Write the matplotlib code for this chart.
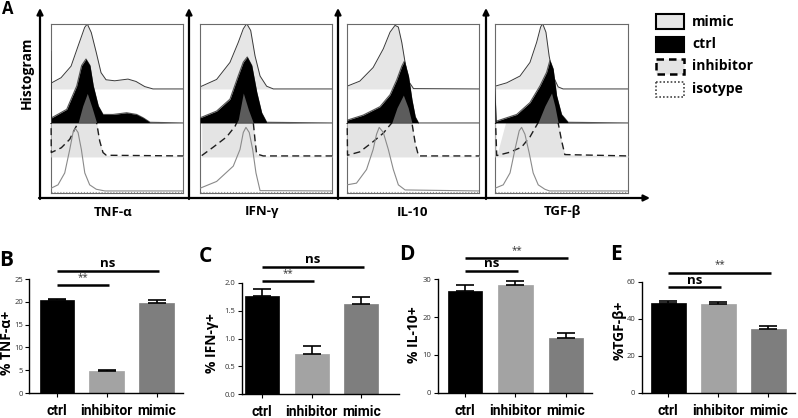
import matplotlib

matplotlib.use("Agg")
import matplotlib.pyplot as plt
import numpy as np
from matplotlib.patches import Rectangle

plt.rcParams["font.family"] = ["Open Sans", "DejaVu Sans"]

W, H = 798, 418

# ---- panel A: offset histograms; x = fraction of the axis, h = height in row units
MARKERS = ["TNF-α", "IFN-γ", "IL-10", "TGF-β"]

tnf_mimic_x = [0, .076, .152, .205, .255, .275, .305, .343, .379, .417, .483, .583, .644, .710, .773, 1.0]
tnf_mimic_h = [0.17, 0.33, 0.67, 1.26, 1.81, 1.91, 1.66, 1.07, 0.48, 0.27, 0.24, 0.29, 0.22, 0.07, 0, 0]
tnf_ctrl_x = [0, .004, .119, .195, .232, .265, .295, .320, .358, .394, .470, .573, .649, .699, .75, 1.0]
tnf_ctrl_h = [2.1, 0.15, 0.4, 1.09, 1.69, 1.88, 1.69, 1.09, 0.5, 0.25, 0.25, 0.3, 0.25, 0.15, 0.02, 0]
tnf_inh_x = [0, .002, .078, .142, .180, .205, .240, .275, .311, .346, .369, .394, .419, 1.0]
tnf_inh_h = [1.5, 0.13, 0.27, 0.52, 0.82, 1.0, 1.5, 1.87, 1.45, 1.0, 0.47, 0.13, 0.05, 0.03]
tnf_iso_x = [0, .053, .104, .142, .167, .184, .205, .230, .256, .293, .343, .409, 1.0]
tnf_iso_h = [0.08, 0.18, 0.53, 1.22, 1.72, 1.84, 1.72, 1.22, 0.53, 0.18, 0.05, 0, 0]

ifn_mimic_x = [0, .126, .227, .290, .328, .354, .384, .417, .455, .505, .556, 1.0]
ifn_mimic_h = [0.06, 0.28, 0.78, 1.37, 1.77, 1.92, 1.72, 0.97, 0.38, 0.08, 0, 0]
ifn_ctrl_x = [0, .126, .227, .290, .328, .358, .392, .430, .467, .505, 1.0]
ifn_ctrl_h = [0.15, 0.35, 0.7, 1.39, 1.79, 1.94, 1.69, 0.9, 0.3, 0.02, 0]
ifn_inh_x = [.013, .101, .202, .265, .290, .328, .366, .404, .417, .429, .479, 1.0]
ifn_inh_h = [0.04, 0.29, 0.59, 0.9, 1.1, 1.88, 1.4, 1.0, 0.49, 0.09, 0.03, 0.03]
ifn_iso_x = [0, .126, .252, .303, .328, .348, .373, .399, .424, .455, 1.0]
ifn_iso_h = [0.08, 0.28, 0.73, 1.22, 1.72, 1.87, 1.72, 1.22, 0.53, 0.01, 0]

il10_mimic_x = [0, .097, .198, .275, .326, .364, .389, .415, .440, .466, .504, 1.0]
il10_mimic_h = [0.08, 0.23, 0.63, 1.18, 1.67, 1.87, 1.82, 1.37, 0.78, 0.23, 0.01, 0]
il10_ctrl_x = [0, .122, .250, .326, .377, .415, .435, .466, .492, .517, .542, 1.0]
il10_ctrl_h = [0.08, 0.23, 0.48, 0.83, 1.27, 1.67, 1.82, 1.37, 0.68, 0.18, 0, 0]
il10_inh_x = [0, .004, .097, .198, .275, .339, .379, .427, .463, .492, .517, .542, 1.0]
il10_inh_h = [1.5, 0.05, 0.15, 0.45, 0.7, 1.0, 1.45, 1.82, 1.45, 1.0, 0.4, 0.03, 0.03]
il10_iso_x = [0, .072, .148, .198, .224, .244, .275, .313, .351, .389, .440, 1.0]
il10_iso_h = [0.18, 0.23, 0.63, 1.22, 1.67, 1.87, 1.72, 1.22, 0.63, 0.18, 0.03, 0]

tgf_mimic_x = [0, .088, .188, .263, .313, .343, .358, .383, .407, .437, .475, .512, 1.0]
tgf_mimic_h = [0.08, 0.18, 0.38, 0.78, 1.37, 1.82, 1.92, 1.67, 0.97, 0.38, 0.06, 0, 0]
tgf_ctrl_x = [0, .008, .163, .263, .338, .388, .413, .437, .463, .500, .550, 1.0]
tgf_ctrl_h = [1.0, 0.05, 0.25, 0.6, 1.09, 1.49, 1.84, 1.59, 0.8, 0.25, 0.02, 0]
tgf_inh_x = [0, .013, .113, .200, .263, .323, .375, .425, .450, .475, .500, .525, 1.0]
tgf_inh_h = [1.5, 0.04, 0.14, 0.29, 0.59, 1.0, 1.5, 1.88, 1.5, 1.0, 0.49, 0.07, 0.03]
tgf_iso_x = [0, .062, .113, .150, .182, .200, .225, .257, .287, .325, .375, .410, 1.0]
tgf_iso_h = [0.08, 0.18, 0.53, 1.22, 1.77, 1.87, 1.67, 1.12, 0.53, 0.18, 0.05, 0, 0]

# where the light inhibitor band starts filling the whole row
band_start = [0.0, 0.0, 0.0, 0.11]

# ---- panels B-E: bar charts (mean, upper SEM)
GROUPS = ["ctrl", "inhibitor", "mimic"]
tnf_mean = [20.4, 4.75, 19.8]
tnf_sem = [0.2, 0.35, 0.7]
ifn_mean = [1.76, 0.72, 1.62]
ifn_sem = [0.13, 0.15, 0.12]
il10_mean = [26.8, 28.4, 14.4]
il10_sem = [1.8, 1.1, 1.4]
tgf_mean = [48.3, 47.9, 34.2]
tgf_sem = [1.5, 1.2, 2.0]
# (compared group, label, line height)
tnf_sig = [(2, "ns", 26.8), (1, "**", 23.7)]
ifn_sig = [(2, "ns", 2.28), (1, "**", 2.03)]
il10_sig = [(2, "**", 35.7), (1, "ns", 32.2)]
tgf_sig = [(2, "**", 64.9), (1, "ns", 57.0)]

MIMIC_FILL, INH_FILL, OVERLAP = "#e6e6e6", "#e4e4e4", "#5c5c5c"
BAR_COLORS = ["#000000", "#a3a3a3", "#7e7e7e"]


def fig_rect(x0, x1, y0, y1):
    """pixel box (left, right, top, bottom) -> figure fraction rect"""
    return [x0 / W, 1 - y1 / H, (x1 - x0) / W, (y1 - y0) / H]


def hist_panel(ax, xm, hm, xc, hc, xi, hi, xs, hs, start):
    xm, hm, xc, hc = map(np.asarray, (xm, hm, xc, hc))
    xi, hi, xs, hs = map(np.asarray, (xi, hi, xs, hs))
    b_iso, b_inh, b_ctrl, b_mim = 0.0, 1.0, 2.0, 3.0

    # mimic (top row)
    ax.fill_between(xm, b_mim, b_mim + hm, color=MIMIC_FILL, lw=0, zorder=1)
    ax.plot(xm, b_mim + hm, color="#3a3a3a", lw=0.7, zorder=2)

    # inhibitor: light band + dashed outline, hidden above the ctrl baseline
    peak = xi[np.argmax(hi)]
    band = np.where((xi >= start) & (xi <= peak), 1.5, hi)
    fb = ax.fill_between(xi, b_inh, b_inh + band, color=INH_FILL, lw=0, zorder=3)
    fb.set_clip_path(Rectangle((-0.1, -1), 1.2, 3, transform=ax.transData))
    ln, = ax.plot(xi, b_inh + hi, color="#1e1e1e", lw=1.0, ls=(0, (5, 3)), zorder=5)
    ln.set_clip_path(Rectangle((-0.1, -1), 1.2, 3, transform=ax.transData))

    # isotype
    ax.plot(xs, b_iso + hs, color="#8a8a8a", lw=0.8, zorder=6)
    ax.axhline(-0.035, color="#9a9a9a", lw=0.8, ls=":", zorder=1)

    # ctrl, with the inhibitor overlap shown darker
    ax.plot(xc, b_ctrl + hc, color="#555555", lw=0.8, zorder=6.5)
    poly = ax.fill_between(xc, b_ctrl, b_ctrl + hc, color="black", lw=0, zorder=7)
    dark = ax.fill_between(xi, b_ctrl, b_inh + hi, color=OVERLAP, lw=0, zorder=8)
    dark.set_clip_path(poly.get_paths()[0], poly.get_transform())

    ax.set_xlim(0, 1)
    ax.set_ylim(-0.06, 4.91)
    ax.set_xticks([])
    ax.set_yticks([])
    for s in ax.spines.values():
        s.set_color("#6a6a6a")
        s.set_linewidth(0.8)


def bar_panel(box, xlim, ylim, yticks, ticklabels, means, sems, sig):
    ax = fig.add_axes(fig_rect(*box))
    pos = np.arange(len(GROUPS))
    ax.bar(pos, means, width=0.69, color=BAR_COLORS, edgecolor=BAR_COLORS, lw=0.5, zorder=2)
    ax.errorbar(pos, means, yerr=[np.zeros(len(sems)), sems], fmt="none", ecolor="black",
                elinewidth=1.2, capsize=6.5, capthick=1.2, zorder=3)
    for tgt, lab, y in sig:
        end = tgt + 0.05
        ax.plot([0, end], [y, y], color="black", lw=1.8, clip_on=False, solid_capstyle="butt")
        if lab == "ns":
            ax.annotate(lab, (end / 2, y), xytext=(0, 0.5), textcoords="offset points",
                        ha="center", va="bottom", fontsize=9.5, fontweight="bold",
                        annotation_clip=False)
        else:
            ax.annotate(lab, (end / 2, y), xytext=(0, 1.5), textcoords="offset points",
                        ha="center", va="bottom", fontsize=7, color="#333333",
                        annotation_clip=False)
    ax.set_xlim(*xlim)
    ax.set_ylim(*ylim)
    ax.set_yticks(yticks)
    ax.set_yticklabels(ticklabels, fontsize=5.5, color="#333333")
    ax.set_xticks(pos)
    ax.set_xticklabels(GROUPS, fontsize=10, fontweight="bold", family=["Roboto", "DejaVu Sans"])
    ax.tick_params(axis="y", length=3, width=0.8, pad=1.5)
    ax.tick_params(axis="x", length=3, width=0.8, pad=5)
    for side in ("top", "right"):
        ax.spines[side].set_visible(False)
    for side in ("left", "bottom"):
        ax.spines[side].set_linewidth(1.0)
    return ax


fig = plt.figure(figsize=(W / 100, H / 100), dpi=100)

# overlay in pixel coordinates for arrows, labels and legend
ov = fig.add_axes([0, 0, 1, 1])
ov.set_xlim(0, W)
ov.set_ylim(H, 0)
ov.axis("off")

arrow = dict(arrowstyle="-|>", lw=1.6, color="black", mutation_scale=9, shrinkA=0, shrinkB=0)
for xa in (40, 189, 338, 486):
    ov.annotate("", xy=(xa, 8), xytext=(xa, 199), arrowprops=arrow)
ov.annotate("", xy=(650, 198), xytext=(39, 198), arrowprops=arrow)

ov.text(8, 9, "A", fontsize=12, fontweight="bold", ha="center", va="center")
ov.text(27, 73, "Histogram", fontsize=10, fontweight="bold", rotation=90, ha="center", va="center")
for xc, lab in zip((113, 262, 412, 562), MARKERS):
    ov.text(xc, 212, lab, fontsize=9.5, fontweight="bold", ha="center", va="center")

# legend swatches
ov.add_patch(Rectangle((655.5, 14), 28, 15, facecolor=MIMIC_FILL, edgecolor="black", lw=1.5))
ov.add_patch(Rectangle((655.5, 37), 28, 15, facecolor="black", edgecolor="black", lw=1.5))
ov.add_patch(Rectangle((655.5, 58.5), 28, 15, facecolor=INH_FILL, edgecolor="black", lw=1.8,
                       ls=(0, (3, 2))))
ov.add_patch(Rectangle((655.5, 82), 28, 15, facecolor="white", edgecolor="#444444", lw=1.2,
                       ls=(0, (1, 1.2))))
for yl, lab in zip((21.5, 44.5, 66, 89.5), ["mimic", "ctrl", "inhibitor", "isotype"]):
    ov.text(692, yl, lab, fontsize=10, fontweight="bold", ha="left", va="center")

boxes = [(51, 183), (200, 332), (347, 479), (495, 628)]
curves = [
    (tnf_mimic_x, tnf_mimic_h, tnf_ctrl_x, tnf_ctrl_h, tnf_inh_x, tnf_inh_h, tnf_iso_x, tnf_iso_h),
    (ifn_mimic_x, ifn_mimic_h, ifn_ctrl_x, ifn_ctrl_h, ifn_inh_x, ifn_inh_h, ifn_iso_x, ifn_iso_h),
    (il10_mimic_x, il10_mimic_h, il10_ctrl_x, il10_ctrl_h, il10_inh_x, il10_inh_h, il10_iso_x, il10_iso_h),
    (tgf_mimic_x, tgf_mimic_h, tgf_ctrl_x, tgf_ctrl_h, tgf_inh_x, tgf_inh_h, tgf_iso_x, tgf_iso_h),
]
for (x0, x1), cv, st in zip(boxes, curves, band_start):
    hax = fig.add_axes(fig_rect(x0, x1, 24, 193))
    hist_panel(hax, *cv, st)

# bar panels: pixel box (left, right, top-of-ylim, zero), xlim, ylim
bar_panel((29.3, 183, 279, 393), (-0.55, 2.53), (0, 25), [0, 5, 10, 15, 20, 25],
          ["0", "5", "10", "15", "20", "25"], tnf_mean, tnf_sem, tnf_sig)
bar_panel((241.7, 399, 282.7, 394.3), (-0.41, 2.76), (0, 2.0), [0, 0.5, 1.0, 1.5, 2.0],
          ["0.0", "0.5", "1.0", "1.5", "2.0"], ifn_mean, ifn_sem, ifn_sig)
bar_panel((437.7, 591.7, 279.3, 392.7), (-0.54, 2.51), (0, 30), [0, 10, 20, 30],
          ["0", "10", "20", "30"], il10_mean, il10_sem, il10_sig)
bar_panel((641.7, 795, 281.7, 392.7), (-0.53, 2.53), (0, 60), [0, 20, 40, 60],
          ["0", "20", "40", "60"], tgf_mean, tgf_sem, tgf_sig)

for (xl, yl), lab in zip([(6, 260), (205, 256.5), (406.5, 254), (616, 255)], "BCDE"):
    ov.text(xl, yl, lab, fontsize=15, fontweight="bold", ha="center", va="center")
for (xl, yl), lab in zip([(7, 343), (212, 343), (414, 335), (620, 330)],
                         ["% TNF-α+", "% IFN-γ+", "% IL-10+", "%TGF-β+"]):
    ov.text(xl, yl, lab, fontsize=10, fontweight="bold", rotation=90, ha="center", va="center")

fig.savefig("out.png", dpi=100)
